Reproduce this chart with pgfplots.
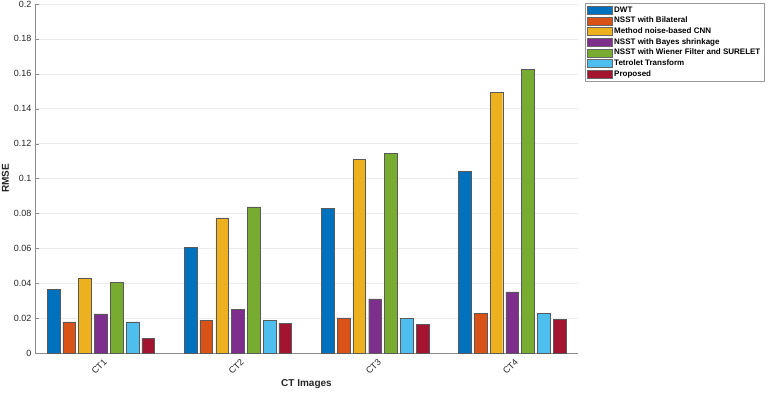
\documentclass[border=0pt]{standalone}
\usepackage{pgfplots}
\pgfplotsset{compat=1.18}
\usepackage{fontspec}
\setmainfont{Liberation Sans}
\definecolor{c1}{rgb}{0,0.447,0.741}
\definecolor{c2}{rgb}{0.85,0.325,0.098}
\definecolor{c3}{rgb}{0.929,0.694,0.125}
\definecolor{c4}{rgb}{0.494,0.184,0.556}
\definecolor{c5}{rgb}{0.466,0.674,0.188}
\definecolor{c6}{rgb}{0.301,0.745,0.933}
\definecolor{c7}{rgb}{0.635,0.078,0.184}
\definecolor{axgray}{rgb}{0.15,0.15,0.15}
\begin{document}
\begin{tikzpicture}
\begin{axis}[name=ax,
  scale only axis, width=543pt, height=349pt,
  ybar=3.1pt, bar width=12.7pt,
  xmin=0.52, xmax=4.48, ymin=0, ymax=0.2,
  xtick={1,2,3,4}, xticklabels={CT1,CT2,CT3,CT4},
  ytick={0,0.02,...,0.2},
  yticklabels={0,0.02,0.04,0.06,0.08,0.1,0.12,0.14,0.16,0.18,0.2},
  x tick label style={rotate=45, anchor=north east, font=\fontsize{9}{10}\selectfont, text=axgray, inner sep=2pt, yshift=-3pt},
  y tick label style={font=\fontsize{9}{10}\selectfont, text=axgray},
  axis lines*=left,
  axis line style={draw=black!45, line width=0.6pt},
  tick style={draw=black!45},
  major tick length=4pt,
  tick align=inside,
  ymajorgrids, grid style={draw=black!8, line width=0.5pt},
  xlabel={\textbf{CT Images}}, ylabel={\textbf{RMSE}},
  label style={font=\fontsize{10}{12}\selectfont, text=axgray},
  xlabel style={yshift=2pt},
  ylabel style={yshift=-2pt},
  legend style={at={(1.013,1.003)}, anchor=north west, draw=black!40, line width=0.5pt,
    font=\fontsize{8}{9.5}\selectfont\bfseries, row sep=-0.6pt, inner sep=1.5pt,
    cells={anchor=west}},
  legend image code/.code={\draw[#1, draw=black!60] (0pt,-4pt) rectangle (25pt,4pt);},
  legend cell align=left,
  every axis plot/.append style={draw=black!65, line width=0.4pt},
]
\addplot[fill=c1] coordinates {(1,0.0365) (2,0.0605) (3,0.0830) (4,0.1042)};
\addplot[fill=c2] coordinates {(1,0.0178) (2,0.0186) (3,0.0202) (4,0.0226)};
\addplot[fill=c3] coordinates {(1,0.0430) (2,0.0775) (3,0.1110) (4,0.1494)};
\addplot[fill=c4] coordinates {(1,0.0224) (2,0.0250) (3,0.0310) (4,0.0350)};
\addplot[fill=c5] coordinates {(1,0.0405) (2,0.0837) (3,0.1145) (4,0.1626)};
\addplot[fill=c6] coordinates {(1,0.0178) (2,0.0186) (3,0.0200) (4,0.0226)};
\addplot[fill=c7] coordinates {(1,0.0082) (2,0.0170) (3,0.0165) (4,0.0193)};
\legend{DWT,NSST with Bilateral,Method noise-based CNN,NSST with Bayes shrinkage,NSST with Wiener Filter and SURELET,Tetrolet Transform,Proposed}
\end{axis}
\pgfresetboundingbox
\path[use as bounding box] ([xshift=-35pt,yshift=-39pt]ax.south west) rectangle ([xshift=733pt,yshift=353pt]ax.south west);
\end{tikzpicture}
\end{document}
